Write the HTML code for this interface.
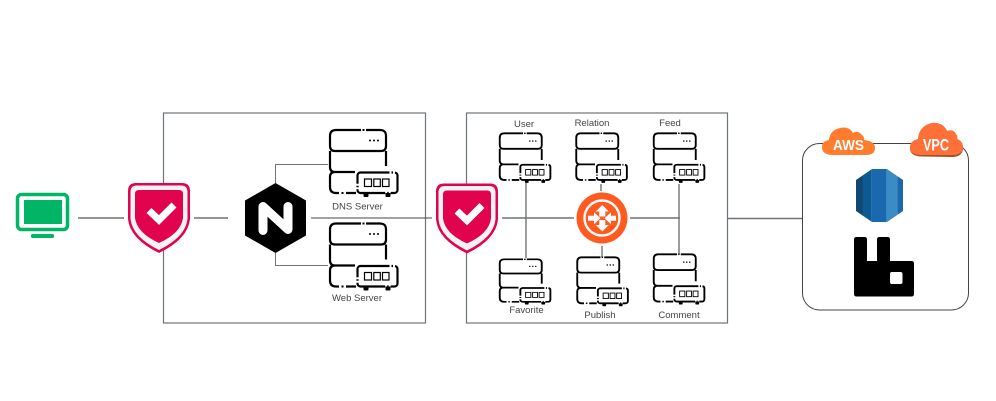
<!DOCTYPE html>
<html><head><meta charset="utf-8"><style>
html,body{margin:0;padding:0;background:#fff;width:996px;height:401px;overflow:hidden}
svg{display:block}
text{font-family:"Liberation Sans",sans-serif}
.l{font-size:9.5px;fill:#444;text-anchor:middle}
</style></head><body>
<svg width="996" height="401" viewBox="0 0 996 401" xmlns="http://www.w3.org/2000/svg">
<defs>
<g id="srv">
<path d="M32 0H7Q1 0 1 6V16Q1 21 6 21H52Q57 21 57 16V6Q57 0 51 0H37M1 21V37Q1 42 6 42H26M57 21V36M6 42Q1 42 1 47V57Q1 63 7 63H10M17 63H27" fill="none" stroke="#000"/>
<rect x="33.500" y="-1" width="2" height="2" fill="#000"/>
<rect x="12.500" y="62" width="2" height="2" fill="#000"/>
<circle cx="41" cy="10.500" r="1"/><circle cx="45" cy="10.500" r="1"/><circle cx="49" cy="10.500" r="1"/>
<path d="M34.500 63v3q0 1 1 1h3q1 0 1-1v-3zM56.500 63v3q0 1 1 1h3q1 0 1-1v-3z" fill="#000"/>
<rect x="28.500" y="42.500" width="40" height="20.500" rx="3" fill="#fff" stroke="#000" stroke-dasharray="29 2 1.500 2 27 2 1.500 2 30 2 1.500 2 100"/>
<rect x="35.500" y="49" width="7" height="7.500" fill="#fff" stroke="#000" stroke-width="1.200"/>
<rect x="44.800" y="49" width="6.500" height="7.500" fill="#fff" stroke="#000" stroke-width="1.200"/>
<rect x="53.500" y="49" width="6.500" height="7.500" fill="#fff" stroke="#000" stroke-width="1.200"/>
</g>
<g id="shield">
<path d="M8 0H54Q62 0 62 8V36Q60 56 31 70Q2 56 0 36V8Q0 0 8 0Z" fill="#e2034f"/>
<path d="M9 2.500H53Q59.500 2.500 59.500 9V36Q57.500 54 31 67Q4.500 54 2.500 36V9Q2.500 2.500 9 2.500Z" fill="#f3f3f3"/>
<path d="M11 7H51Q55 7 55 11V35Q53 50 31 60Q9 50 7 35V11Q7 7 11 7Z" fill="#e2034f"/>
<path d="M21 27.500L31 37L46 22" fill="none" stroke="#fff" stroke-width="7"/>
</g>
<clipPath id="rds"><path d="M872 169H887L903 180V211L887 222H872L856 211V180Z"/></clipPath>
</defs>

<g stroke="#6f7478" fill="none">
<rect x="163.500" y="113" width="262" height="210" stroke-width="1.200"/>
<rect x="466.500" y="113" width="261" height="210" stroke-width="1.200"/>
<path d="M78 218H124M194 218H228M630 218H680M728 218.500H802M502 218H574" stroke-width="1.400"/>
<path d="M311 218H432" stroke="#444" stroke-width="1"/>
<path d="M328 164.500H275.500V183M275.500 253V265.500H328" stroke-width="1"/>
<path d="M526 183V258M601 184V191M602 246V257M679 184V254" stroke-width="1.400"/>
</g>

<!-- monitor -->
<rect x="17.500" y="194.500" width="50" height="35" rx="4" fill="#fff" stroke="#00b566" stroke-width="3.500"/>
<rect x="24" y="200" width="38" height="24" fill="#00b566"/>
<rect x="31" y="234" width="23" height="4" rx="1.500" fill="#00b566"/>

<use href="#shield" x="128" y="183"/>
<use href="#shield" x="436" y="183.500"/>

<!-- nginx -->
<path d="M275.500 183L306 200.500V235.500L275.500 253L245 235.500V200.500Z" fill="#000"/>
<path d="M263 230.500V206.500L288 229.500V206.500" fill="none" stroke="#fff" stroke-width="9" stroke-linejoin="round" stroke-linecap="round"/>

<use href="#srv" stroke-width="2.200" transform="translate(329 130)"/>
<use href="#srv" stroke-width="2.200" transform="translate(329 223.500)"/>
<text class="l" x="357.500" y="209.500">DNS Server</text>
<text class="l" x="357" y="301">Web Server</text>

<use href="#srv" stroke-width="2.500" transform="translate(499 133.300) scale(.75 .74)"/>
<use href="#srv" stroke-width="2.500" transform="translate(575.500 133.300) scale(.75 .74)"/>
<use href="#srv" stroke-width="2.500" transform="translate(653 133.300) scale(.75 .74)"/>
<use href="#srv" stroke-width="2.500" transform="translate(499 259.300) scale(.75 .675)"/>
<use href="#srv" stroke-width="2.500" transform="translate(576.500 257.300) scale(.75 .73)"/>
<use href="#srv" stroke-width="2.500" transform="translate(653 254.300) scale(.75 .75)"/>
<text class="l" x="524" y="127">User</text>
<text class="l" x="592" y="126">Relation</text>
<text class="l" x="670" y="126">Feed</text>
<text class="l" x="526.500" y="313">Favorite</text>
<text class="l" x="600" y="318">Publish</text>
<text class="l" x="679" y="318">Comment</text>

<!-- router -->
<circle cx="602" cy="218" r="25.500" fill="#ff5a1f"/>
<circle cx="602" cy="218" r="17.500" fill="none" stroke="#fff" stroke-width="2.400"/>
<g fill="#fff">
<path d="M602.300 205l6.500 6.500h-3.500v5h-6v-5h-3.500z"/>
<path d="M602.300 231.500l6.500-6.500h-3.500v-5h-6v5h-3.500z"/>
<path d="M600.500 218.300l-6.500-6v3.500h-6v5h6v3.500z"/>
<path d="M604.500 218.300l6.500-6v3.500h5v5h-5v3.500z"/>
</g>

<!-- AWS box -->
<rect x="802.500" y="143.500" width="166" height="166.500" rx="17" fill="#fff" stroke="#444" stroke-width="1"/>
<path d="M833 155Q822 155 822 147Q822 141 829 140Q830 130 840 128Q849 126 853 133Q858 130 862 135Q865 138 864 140Q875 141 875 148Q875 155 866 155Z" fill="#ff7d2d"/>
<path d="M921 156.500Q910 156 910 148Q910 141 918 139Q919 126 932 123Q943 122 947 131Q953 129 956 134Q958 137 957 139Q963 141 963 149Q962 157 952 157Z" fill="#a5502a"/>
<path d="M921 155Q910 155 910 147Q910 141 918 139Q919 126 932 123Q943 122 947 131Q953 129 956 134Q958 137 957 139Q963 141 963 148Q962 155 952 155Z" fill="#ff7039"/>
<text x="848.500" y="150" font-size="15" font-weight="bold" fill="#fff" text-anchor="middle" textLength="31" lengthAdjust="spacingAndGlyphs">AWS</text>
<text x="936" y="150.500" font-size="17" font-weight="bold" fill="#fff" text-anchor="middle" textLength="26" lengthAdjust="spacingAndGlyphs">VPC</text>

<!-- RDS -->
<g clip-path="url(#rds)">
<rect x="856" y="169" width="7" height="53" fill="#12486f"/>
<rect x="862.700" y="169" width="9" height="53" fill="#0b5a90"/>
<rect x="871.700" y="169" width="15" height="53" fill="#1a68ad"/>
<rect x="886.700" y="169" width="10.600" height="53" fill="#3b8bc4"/>
<rect x="897.300" y="169" width="6" height="53" fill="#1a68ad"/>
</g>

<!-- RabbitMQ -->
<path d="M856.500 237H864.500Q867 237 867 239.500V261H877V239.500Q877 237 879.500 237H887.500Q890 237 890 239.500V261H911.500Q914 261 914 263.500V294Q914 296.500 911.500 296.500H856.500Q854 296.500 854 294V239.500Q854 237 856.500 237Z" fill="#000"/>
<rect x="890" y="272" width="12.500" height="12" rx="2" fill="#fff"/>
</svg>
</body></html>
